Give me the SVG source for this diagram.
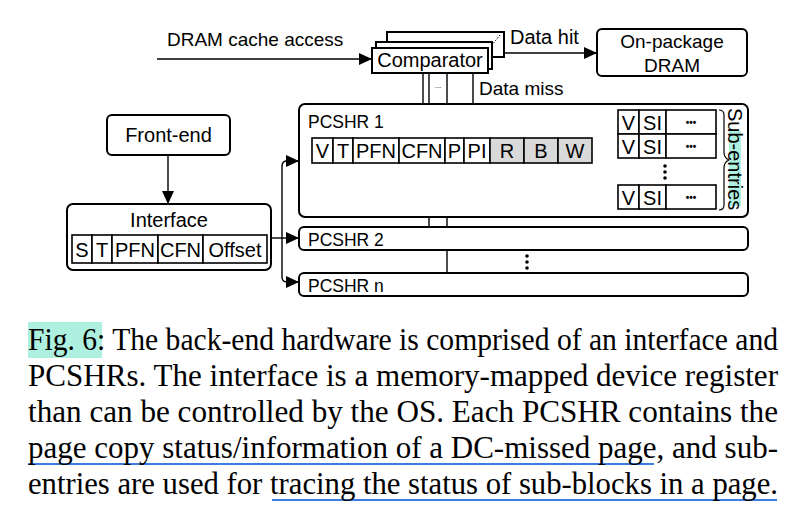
<svg xmlns="http://www.w3.org/2000/svg" width="806" height="506" viewBox="0 0 806 506">
<defs>
<marker id="arr" markerUnits="userSpaceOnUse" markerWidth="14" markerHeight="12" refX="13" refY="6" orient="auto">
<path d="M0,0 L13,6 L0,12 z" fill="#000"/>
</marker>
<style>
.t{font-family:"Liberation Sans",Arial,sans-serif;fill:#000;font-size:19px}
.m{text-anchor:middle}
.f{font-size:20px}
.box{fill:#fff;stroke:#000;stroke-width:2}
.cell{fill:#fff;stroke:#000;stroke-width:1.6}
.gr{fill:#d9d9d9}
.ln{fill:none;stroke:#000;stroke-width:1.4}
.cap{font-family:"Liberation Serif","Times New Roman",serif;font-size:29.5px;fill:#000}
.ul{stroke:#3b7de0;stroke-width:2.2}
.hl{fill:#aef0df}
</style>
</defs>
<rect width="806" height="506" fill="#fff"/>

<g id="connectors">
<path class="ln" d="M157,59 H372" marker-end="url(#arr)"/>
<path class="ln" d="M504,53 H597" marker-end="url(#arr)"/>
<path class="ln" d="M423,73 V138"/>
<path class="ln" d="M429,73 V104"/>
<path class="ln" d="M447,73 V104"/>
<path class="ln" d="M473,73 V122 H618" marker-end="url(#arr)"/>
<path class="ln" d="M601,147 H618" marker-end="url(#arr)"/>
<path class="ln" d="M601,122 V191 Q601,196 606,196 H618" marker-end="url(#arr)"/>
<path class="ln" d="M429,217 V227 M447,217 V227 M447,250 V273"/>
<path class="ln" d="M168,155 V204" marker-end="url(#arr)"/>
<path class="ln" d="M271,238 H299" marker-end="url(#arr)"/>
<path class="ln" d="M282,238 V166 Q282,161 287,161 H299" marker-end="url(#arr)"/>
<path class="ln" d="M282,238 V277 Q282,282 287,282 H299" marker-end="url(#arr)"/>
<text class="t" x="438" y="88" style="font-size:8px" text-anchor="middle">...</text>
<text class="t" x="167" y="46">DRAM cache access</text>
<text class="t" x="510" y="44" style="font-size:20px">Data hit</text>
<text class="t" x="479" y="95">Data miss</text>
</g>

<g id="comparator">
<rect class="box" x="387" y="32" width="117" height="25"/>
<path d="M500,35 L492,45" stroke="#000" stroke-width="1" stroke-dasharray="1.5,1.5"/>
<rect class="box" x="376" y="42" width="116" height="27"/>
<rect class="box" x="372" y="48" width="116" height="25"/>
<text class="t m" x="430" y="67" style="font-size:20px">Comparator</text>
</g>

<g id="dram">
<rect class="box" x="597" y="29" width="150" height="47" rx="5"/>
<text class="t m" x="672" y="48">On-package</text>
<text class="t m" x="672" y="72">DRAM</text>
</g>

<g id="frontend">
<rect class="box" x="107" y="115" width="123" height="40" rx="5"/>
<text class="t m" x="168.5" y="142" style="font-size:20px">Front-end</text>
</g>

<g id="interface">
<rect class="box" x="67" y="204" width="204" height="66" rx="6"/>
<text class="t m" x="169" y="227" style="font-size:20px">Interface</text>
<rect class="cell" x="72" y="235" width="20" height="28"/>
<rect class="cell" x="92" y="235" width="20" height="28"/>
<rect class="cell" x="112" y="235" width="46" height="28"/>
<rect class="cell" x="158" y="235" width="45" height="28"/>
<rect class="cell" x="203" y="235" width="64" height="28"/>
<text class="t f m" x="82" y="256.5">S</text>
<text class="t f m" x="102" y="256.5">T</text>
<text class="t f m" x="135" y="256.5">PFN</text>
<text class="t f m" x="180.5" y="256.5">CFN</text>
<text class="t f m" x="235" y="256.5">Offset</text>
</g>

<g id="pcshr1">
<rect class="box" x="299" y="104" width="449" height="113" rx="6"/>
<text class="t" x="308" y="128" style="font-size:17.5px">PCSHR 1</text>
<rect class="cell" x="312" y="138" width="21" height="25"/>
<rect class="cell" x="333" y="138" width="20" height="25"/>
<rect class="cell" x="353" y="138" width="46" height="25"/>
<rect class="cell" x="399" y="138" width="46" height="25"/>
<rect class="cell" x="445" y="138" width="19" height="25"/>
<rect class="cell" x="464" y="138" width="26" height="25"/>
<rect class="cell gr" x="490" y="138" width="34" height="25"/>
<rect class="cell gr" x="524" y="138" width="34" height="25"/>
<rect class="cell gr" x="558" y="138" width="34" height="25"/>
<text class="t f m" x="322.5" y="158">V</text>
<text class="t f m" x="343" y="158">T</text>
<text class="t f m" x="376" y="158">PFN</text>
<text class="t f m" x="422" y="158">CFN</text>
<text class="t f m" x="454.5" y="158">P</text>
<text class="t f m" x="477" y="158">PI</text>
<text class="t f m" x="507" y="158">R</text>
<text class="t f m" x="541" y="158">B</text>
<text class="t f m" x="575" y="158">W</text>
</g>

<g id="subentries">
<rect class="cell" x="618" y="110" width="21" height="24"/>
<rect class="cell" x="639" y="110" width="27" height="24"/>
<rect class="cell" x="666" y="110" width="50" height="24"/>
<rect class="cell" x="618" y="134" width="21" height="24"/>
<rect class="cell" x="639" y="134" width="27" height="24"/>
<rect class="cell" x="666" y="134" width="50" height="24"/>
<rect class="cell" x="618" y="185" width="21" height="24"/>
<rect class="cell" x="639" y="185" width="27" height="24"/>
<rect class="cell" x="666" y="185" width="50" height="24"/>
<text class="t f m" x="628.5" y="129.5">V</text>
<text class="t f m" x="652.5" y="129.5">SI</text>
<text class="t m" x="691" y="126" style="font-size:10px;font-weight:bold">•••</text>
<text class="t f m" x="628.5" y="153.5">V</text>
<text class="t f m" x="652.5" y="153.5">SI</text>
<text class="t m" x="691" y="150" style="font-size:10px;font-weight:bold">•••</text>
<text class="t f m" x="628.5" y="204.5">V</text>
<text class="t f m" x="652.5" y="204.5">SI</text>
<text class="t m" x="691" y="201" style="font-size:10px;font-weight:bold">•••</text>
<circle cx="665" cy="166" r="1.8"/>
<circle cx="665" cy="172" r="1.8"/>
<circle cx="665" cy="178" r="1.8"/>
<path d="M719,110 Q724,110 724,115 V152 Q724,158 729,160 Q724,162 724,168 V205 Q724,210 719,210" fill="none" stroke="#000" stroke-width="1.2"/>
<rect class="hl" x="729" y="131" width="12" height="75"/>
<text class="t" transform="translate(728,108) rotate(90)" style="font-size:20px">Sub-entries</text>
</g>

<g id="pcshr2">
<rect class="box" x="299" y="227" width="449" height="23" rx="5"/>
<text class="t" x="308" y="246" style="font-size:17.5px">PCSHR 2</text>
</g>
<g id="dots">
<circle cx="527" cy="256" r="1.8"/>
<circle cx="527" cy="262" r="1.8"/>
<circle cx="527" cy="268" r="1.8"/>
</g>
<g id="pcshrn">
<rect class="box" x="299" y="273" width="449" height="23" rx="5"/>
<text class="t" x="308" y="292" style="font-size:17.5px">PCSHR n</text>
</g>

<g id="caption">
<rect class="hl" x="28" y="322" width="74" height="36"/>
<line class="ul" x1="28" y1="464" x2="654" y2="464"/>
<line class="ul" x1="272" y1="500" x2="777" y2="500"/>
<text class="cap" transform="translate(28,350) scale(1,1.085)" textLength="750" lengthAdjust="spacingAndGlyphs">Fig. 6: The back-end hardware is comprised of an interface and</text>
<text class="cap" transform="translate(28,386) scale(1,1.085)" textLength="750" lengthAdjust="spacingAndGlyphs">PCSHRs. The interface is a memory-mapped device register</text>
<text class="cap" transform="translate(28,422) scale(1,1.085)" textLength="750" lengthAdjust="spacingAndGlyphs">than can be controlled by the OS. Each PCSHR contains the</text>
<text class="cap" transform="translate(28,458) scale(1,1.085)" textLength="750" lengthAdjust="spacingAndGlyphs">page copy status/information of a DC-missed page, and sub-</text>
<text class="cap" transform="translate(28,494) scale(1,1.085)" textLength="750" lengthAdjust="spacingAndGlyphs">entries are used for tracing the status of sub-blocks in a page.</text>
</g>
</svg>
